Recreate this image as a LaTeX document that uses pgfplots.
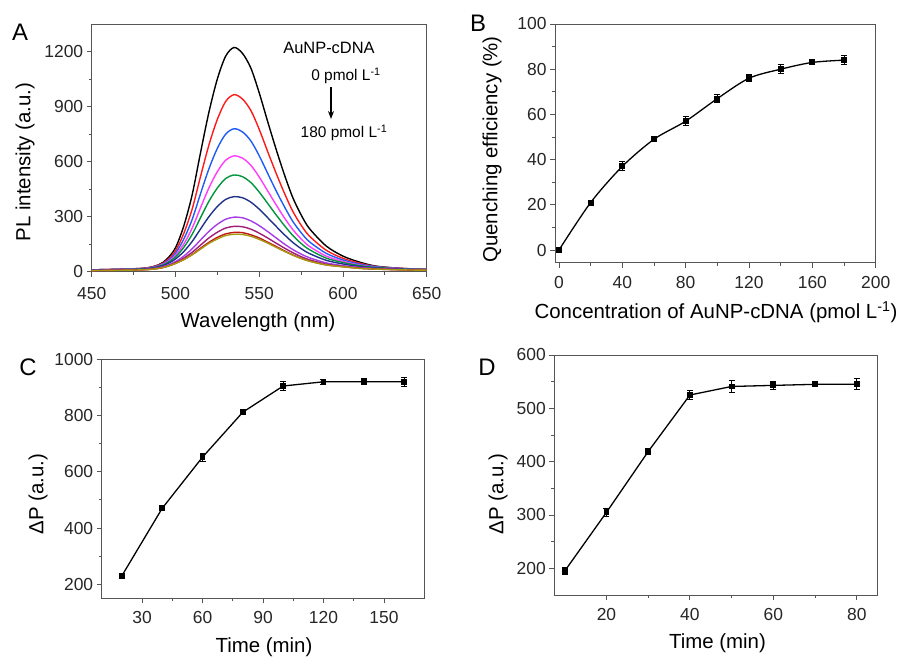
\documentclass[border=0pt]{standalone}
\usepackage{fontspec}
\setmainfont{Liberation Sans}
\usepackage{pgfplots}
\usepackage{pgfplotstable}
\pgfplotsset{compat=1.18}
\usetikzlibrary{arrows.meta}

\definecolor{frame}{HTML}{555555}
\definecolor{cRed}{HTML}{FF1A1A}
\definecolor{cBlue}{HTML}{1F5CF5}
\definecolor{cMag}{HTML}{FF3CFF}
\definecolor{cGreen}{HTML}{00963C}
\definecolor{cNavy}{HTML}{1E3288}
\definecolor{cViolet}{HTML}{A63CE6}
\definecolor{cPurple}{HTML}{A01E78}
\definecolor{cDred}{HTML}{C01818}
\definecolor{cOlive}{HTML}{A89A10}

% PL spectra, one column per AuNP-cDNA concentration (pmol/L)
\pgfplotstableread{
wl  c0   c20 c40 c60 c80 c100 c120 c140 c160 c180
450 10   10  10  9   9   8    7    6    6    6
480 18   18  17  16  15  14   12   11   10   10
490 38   36  33  31  29  26   22   19   18   18
495 70   63  57  52  48  42   34   31   28   29
500 130  113 100 89  80  69   55   49   45   45
505 250  209 178 151 133 110  85   74   66   66
510 420  342 285 238 204 165  125  106  94   92
515 650  520 426 349 295 233  173  145  128  123
520 870  691 561 457 384 300  220  184  160  154
525 1050 830 672 545 456 355  258  215  187  178
530 1175 928 750 608 508 394  286  238  206  197
535 1222 965 779 631 527 409  297  247  214  204
540 1190 941 762 619 518 403  294  245  213  203
545 1110 879 713 580 486 379  277  232  201  193
550 975  776 632 516 434 341  251  210  184  176
555 820  656 537 441 373 295  219  184  161  156
560 670  539 443 366 311 248  185  156  138  133
565 530  429 355 294 252 202  151  129  114  111
570 405  330 275 230 198 160  121  104  92   90
575 310  254 213 179 154 126  96   82   73   72
580 235  194 163 138 120 99   76   65   58   57
590 140  117 100 85  74  62   48   41   37   37
600 85   73  64  56  50  42   33   29   27   27
610 52   46  41  36  33  28   23   20   18   18
620 30   28  27  24  23  20   17   15   14   14
635 18   18  17  16  15  14   12   11   10   10
650 12   13  12  12  12  11   9    8    8    8
}\spectra

\pgfplotsset{
  panel/.style={
    scale only axis, anchor=south west,
    tick pos=left, tick align=outside,
    major tick length=5bp, minor tick length=3bp, minor tick num=1,
    axis line style={frame, line width=0.9bp},
    tick style={frame, line width=0.9bp},
    tick label style={font=\fontsize{17.5}{20}\selectfont, text=black!85},
    xticklabel style={yshift=-5bp},
    /pgf/number format/assume math mode=true,
    /pgf/number format/1000 sep={},
  },
  spec/.style={line width=1.4bp, smooth, no marks},
  dat/.style={black, line width=1.3bp, mark=square*, mark size=2.3bp,
    /pgfplots/error bars/y dir=both, /pgfplots/error bars/y explicit,
    /pgfplots/error bars/error bar style={line width=1bp, solid},
    /pgfplots/error bars/error mark options={rotate=90, mark size=3bp, line width=1bp}},
}

\begin{document}
\begin{tikzpicture}[x=1bp, y=1bp, font=\fontsize{20.5}{24}\selectfont]
\useasboundingbox (0,0) rectangle (899,659);

% ---- A: PL spectra
\begin{axis}[panel, at={(91.7bp,387.3bp)}, width=335bp, height=247.7bp,
    xmin=450, xmax=650, ymin=0, ymax=1350,
    xtick={450,500,...,650}, ytick={0,300,...,1200},
    xticklabel style={yshift=-2bp}]
  \addplot[spec, black]   table[x=wl, y=c0]   {\spectra};
  \addplot[spec, cRed]    table[x=wl, y=c20]  {\spectra};
  \addplot[spec, cBlue]   table[x=wl, y=c40]  {\spectra};
  \addplot[spec, cMag]    table[x=wl, y=c60]  {\spectra};
  \addplot[spec, cGreen]  table[x=wl, y=c80]  {\spectra};
  \addplot[spec, cNavy]   table[x=wl, y=c100] {\spectra};
  \addplot[spec, cViolet] table[x=wl, y=c120] {\spectra};
  \addplot[spec, cPurple] table[x=wl, y=c140] {\spectra};
  \addplot[spec, cDred]   table[x=wl, y=c160] {\spectra};
  \addplot[spec, cOlive]  table[x=wl, y=c180] {\spectra};
\end{axis}
\node[rotate=90] at (25,497) {PL intensity (a.u.)};
\node at (258,337) {Wavelength (nm)};
\node[font=\fontsize{24}{28}\selectfont] at (20,627) {A};
\node[font=\fontsize{16.5}{20}\selectfont] at (329,611) {AuNP-cDNA};
\node[font=\fontsize{15.5}{18}\selectfont] at (346,583) {0 pmol L\textsuperscript{-1}};
\draw[-{Stealth[length=8bp,width=6bp]}, line width=1.3bp] (331,572) -- (331,540);
\node[font=\fontsize{15.5}{18}\selectfont] at (344,526) {180 pmol L\textsuperscript{-1}};

% ---- B: quenching efficiency
\begin{axis}[panel, at={(555bp,396.3bp)}, width=320.7bp, height=238.7bp,
    xmin=-2.5, xmax=200, ymin=-5.6, ymax=100,
    xtick={0,40,...,200}, ytick={0,20,...,100}]
  \addplot[dat, smooth] coordinates {
    (0,0) +- (0,0.3)
    (20,21) +- (0,0.8)
    (40,37) +- (0,2)
    (60,49) +- (0,0.6)
    (80,57) +- (0,2)
    (100,67) +- (0,1.8)
    (120,76) +- (0,1.5)
    (140,80) +- (0,2)
    (160,83) +- (0,0.8)
    (180,84) +- (0,2)
  };
\end{axis}
\node[rotate=90] at (492,509.5) {Quenching efficiency (\%)};
\node at (716,347) {Concentration of AuNP-cDNA (pmol L\textsuperscript{-1})};
\node[font=\fontsize{24}{28}\selectfont] at (478,636) {B};

% ---- C: time, panel C
\begin{axis}[panel, at={(101.7bp,60.7bp)}, width=322.6bp, height=239bp,
    xmin=10, xmax=170, ymin=150, ymax=1000,
    xtick={30,60,...,150}, ytick={200,400,...,1000}]
  \addplot[dat] coordinates {
    (20,230) +- (0,6)
    (40,470) +- (0,8)
    (60,652) +- (0,14)
    (80,812) +- (0,10)
    (100,905) +- (0,15)
    (120,920) +- (0,8)
    (140,920) +- (0,10)
    (160,920) +- (0,16)
  };
\end{axis}
\node[rotate=90] at (38,165) {ΔP (a.u.)};
\node at (264,12) {Time (min)};
\node[font=\fontsize{24}{28}\selectfont] at (28,292) {C};

% ---- D: time, panel D
\begin{axis}[panel, at={(554.3bp,64bp)}, width=323.4bp, height=240bp,
    xmin=7.5, xmax=85, ymin=150, ymax=600,
    xtick={20,40,...,80}, ytick={200,300,...,600}]
  \addplot[dat] coordinates {
    (10,195) +- (0,6)
    (20,305) +- (0,8)
    (30,419) +- (0,5)
    (40,525) +- (0,9)
    (50,541) +- (0,11)
    (60,543) +- (0,8)
    (70,545) +- (0,5)
    (80,545) +- (0,10)
  };
\end{axis}
\node[rotate=90] at (498,165) {ΔP (a.u.)};
\node at (717.5,16) {Time (min)};
\node[font=\fontsize{24}{28}\selectfont] at (487,292) {D};
\end{tikzpicture}
\end{document}
